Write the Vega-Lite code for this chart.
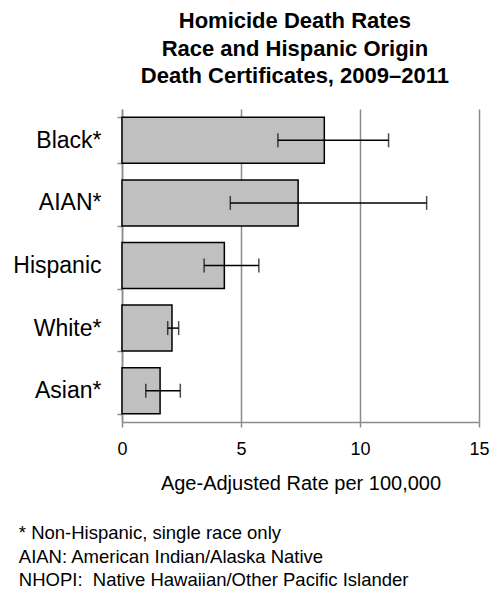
{
  "$schema": "https://vega.github.io/schema/vega-lite/v6.json",
  "padding": {"left": 12, "top": 10, "right": 3, "bottom": 3},
  "background": "white",
  "config": {"font": "Liberation Sans", "view": {"stroke": null}},
  "title": {
    "text": ["Homicide Death Rates", "Race and Hispanic Origin", "Death Certificates, 2009–2011"],
    "fontSize": 22, "fontWeight": "bold", "lineHeight": 27.5, "anchor": "middle",
    "color": "black", "offset": 10, "dx": 44
  },
  "vconcat": [
    {
      "width": 357,
      "height": 313,
      "title": {
        "text": ["* Non-Hispanic, single race only", "AIAN: American Indian/Alaska Native", "NHOPI: \u00a0Native Hawaiian/Other Pacific Islander"],
        "orient": "bottom", "anchor": "start", "fontSize": 18.5, "fontWeight": "normal",
        "lineHeight": 23.5, "offset": 31, "dx": 6, "color": "black"
      },
      "data": {
        "values": [
          {"race": "Black*", "rate": 8.5, "lo": 6.55, "hi": 11.2},
          {"race": "AIAN*", "rate": 7.4, "lo": 4.55, "hi": 12.8},
          {"race": "Hispanic", "rate": 4.3, "lo": 3.45, "hi": 5.75},
          {"race": "White*", "rate": 2.1, "lo": 1.92, "hi": 2.38},
          {"race": "Asian*", "rate": 1.6, "lo": 1.0, "hi": 2.45}
        ]
      },
      "encoding": {
        "y": {
          "field": "race", "type": "nominal", "sort": null,
          "scale": {"paddingInner": 0.265, "paddingOuter": 0.1325},
          "axis": {
            "title": null, "tickBand": "extent", "tickSize": 5, "tickColor": "#8c8c8c",
            "tickWidth": 1.5, "domainColor": "#8c8c8c", "domainWidth": 1.5,
            "labelFontSize": 23, "labelColor": "black", "labelPadding": 16, "grid": false
          }
        }
      },
      "layer": [
        {
          "mark": {"type": "bar", "fill": "#c0c0c0", "stroke": "black", "strokeWidth": 1.5},
          "encoding": {
            "x": {
              "field": "rate", "type": "quantitative",
              "scale": {"domain": [0, 15], "nice": false},
              "axis": {
                "values": [0, 5, 10, 15], "grid": true, "gridColor": "#8c8c8c", "gridWidth": 1.5,
                "domainColor": "#8c8c8c", "domainWidth": 1.5, "tickColor": "#8c8c8c", "tickWidth": 1.5,
                "tickSize": 5, "labelFontSize": 18, "labelColor": "black", "labelPadding": 13,
                "labelFlush": false,
                "title": "Age-Adjusted Rate per 100,000", "titleFontSize": 20, "titleFontWeight": "normal",
                "titleColor": "black", "titlePadding": 15
              }
            }
          }
        },
        {
          "mark": {"type": "rule", "color": "black", "strokeWidth": 1.5},
          "encoding": {"x": {"field": "lo", "type": "quantitative"}, "x2": {"field": "hi"}}
        },
        {
          "mark": {"type": "tick", "color": "black", "size": 14, "thickness": 1.5},
          "encoding": {"x": {"field": "lo", "type": "quantitative"}}
        },
        {
          "mark": {"type": "tick", "color": "black", "size": 14, "thickness": 1.5},
          "encoding": {"x": {"field": "hi", "type": "quantitative"}}
        }
      ]
    }
  ]
}
